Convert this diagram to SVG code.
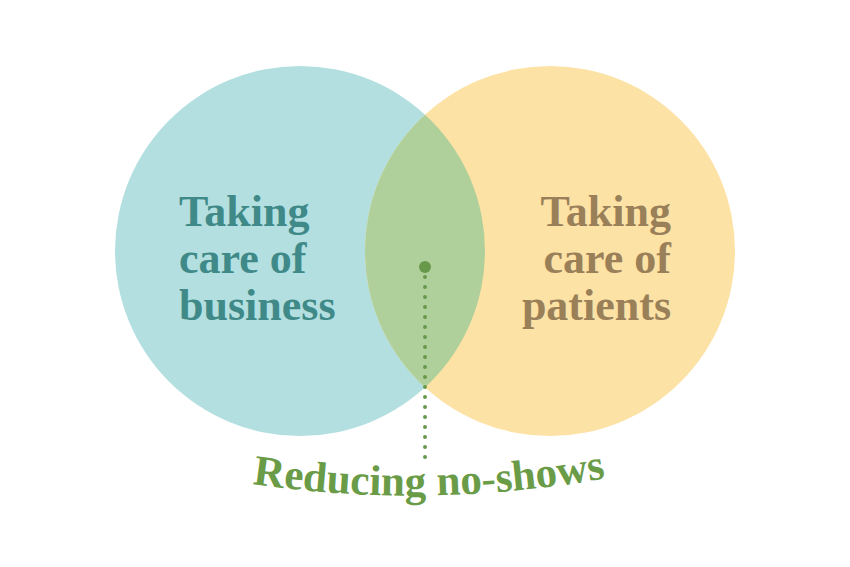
<svg xmlns="http://www.w3.org/2000/svg" width="850" height="567" viewBox="0 0 850 567">
<style>
.lbl{font-family:"Liberation Serif","DejaVu Serif",serif;font-weight:bold;font-size:44px}
.l{fill:#3F8A88}
.r{fill:#9A8058;text-anchor:end}
.g{fill:#6A9B47;font-size:43px}
</style>
<defs>
<clipPath id="clipL"><circle cx="300" cy="251" r="185"/></clipPath>
<path id="arc" d="M 240 482 Q 427 512 618 476"/>
</defs>
<rect width="850" height="567" fill="#ffffff"/>
<g id="circle-business"><circle cx="300" cy="251" r="185" fill="#B3DFE0"/></g>
<g id="circle-patients"><circle cx="550" cy="251" r="185" fill="#FDE2A6"/></g>
<g id="overlap"><circle cx="550" cy="251" r="185" fill="#B0D09B" clip-path="url(#clipL)"/></g>
<g id="label-business">
<text class="lbl l" x="179" y="226">Taking</text>
<text class="lbl l" x="179" y="273">care of</text>
<text class="lbl l" x="179" y="320">business</text>
</g>
<g id="label-patients">
<text class="lbl r" x="671" y="226">Taking</text>
<text class="lbl r" x="671" y="273">care of</text>
<text class="lbl r" x="671" y="320">patients</text>
</g>
<g id="connectors">
<circle cx="425" cy="267" r="6" fill="#68994A"/>
<line x1="425" y1="277" x2="425" y2="458" stroke="#68994A" stroke-width="4" stroke-linecap="round" stroke-dasharray="0 10"/>
</g>
<g id="label-overlap">
<text class="lbl g" text-anchor="middle"><textPath href="#arc" startOffset="50%">Reducing no-shows</textPath></text>
</g>
</svg>
